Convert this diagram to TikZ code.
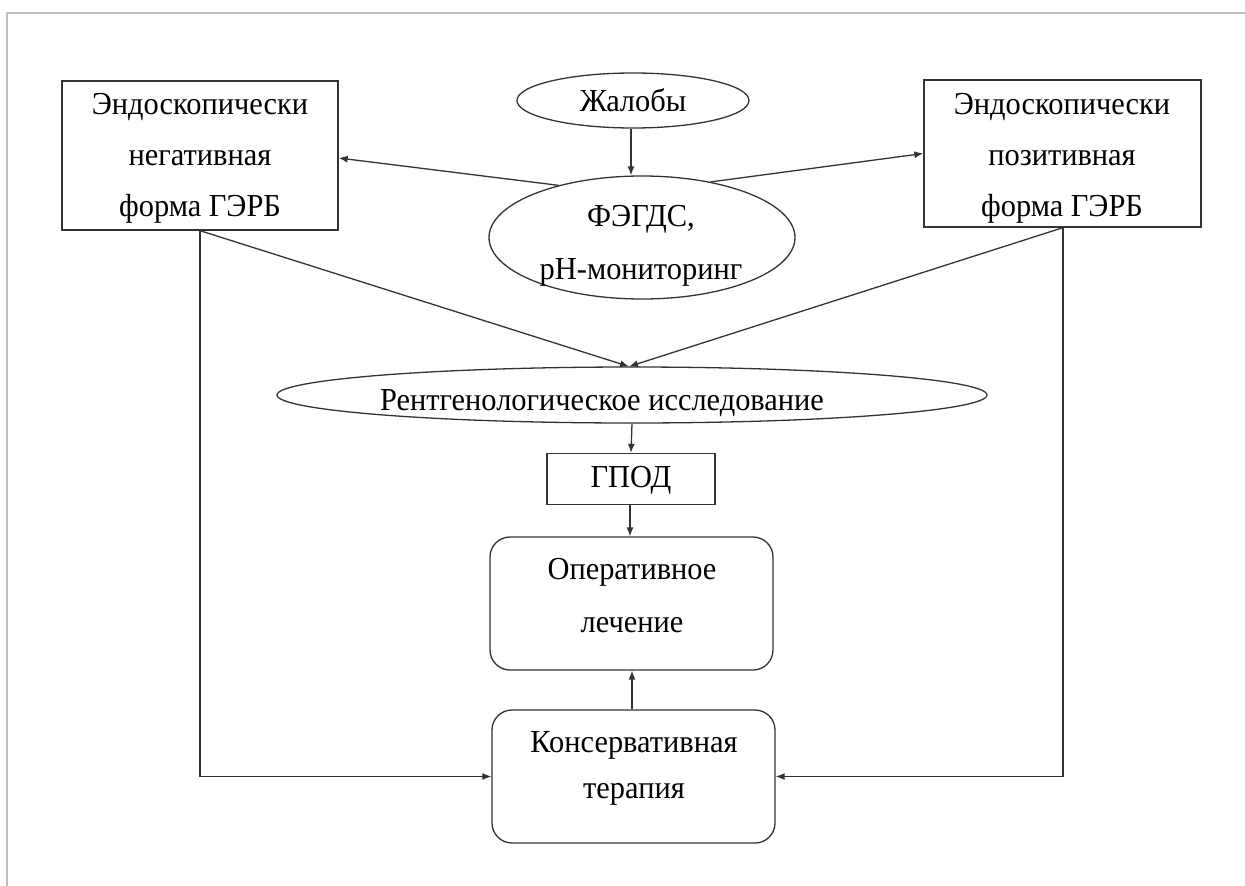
\documentclass[tikz,border=0pt]{standalone}
\usepackage{fontspec}
\setmainfont{Liberation Serif}
\usetikzlibrary{shapes.geometric,arrows.meta}
\definecolor{linec}{HTML}{333333}
\newfontfamily\cyrserif{Liberation Serif}[FakeStretch=0.95]
\newcommand{\txtfont}{\cyrserif\fontsize{32}{51}\selectfont}
\begin{document}
\begin{tikzpicture}[x=1pt,y=-1pt,
  box/.style={draw=linec, line width=1.3pt, rectangle, inner sep=0pt, align=center, font=\txtfont},
  rbox/.style={box, rounded corners=20pt},
  oval/.style={draw=linec, line width=1.3pt, ellipse, inner sep=0pt, align=center, font=\txtfont},
  lbl/.style={inner sep=0pt, align=center, font=\txtfont},
  arr/.style={draw=linec, line width=1.3pt, -{Latex[length=9pt,width=7pt]}},
  frame/.style={draw=black!25, line width=1.2pt}]
\useasboundingbox (0,0) rectangle (1245,886);
\draw[frame] (7,886) -- (7,13) -- (1245,13);

\node[box, minimum width=276pt, minimum height=149pt] (lneg) at (200,155.5) {};
\node[lbl] (lnegt) at (200,158.5) {Эндоскопически\\негативная\\форма ГЭРБ};
\node[box, minimum width=277pt, minimum height=147pt] (rpos) at (1062.5,153.5) {};
\node[lbl] (rpost) at (1062,158) {Эндоскопически\\позитивная\\форма ГЭРБ};
\node[oval, minimum width=232pt, minimum height=55pt] (zhal) at (633,100.5) {Жалобы};
\node[oval, minimum width=306pt, minimum height=123pt] (fegds) at (642,237.5) {};
\node[lbl] (fegdst) at (641,246) {ФЭГДС,\\[2pt]рН-мониторинг};
\node[oval, minimum width=710pt, minimum height=56pt] (rentg) at (632,395) {};
\node[lbl] (rentgt) at (602,403) {Рентгенологическое исследование};
\node[box, minimum width=168pt, minimum height=51pt] (gpod) at (631,479) {};
\node[lbl] (gpodt) at (631,480.5) {ГПОД};
\node[rbox, minimum width=283pt, minimum height=133pt] (oper) at (631.5,603.5) {};
\node[lbl] (opert) at (632,595.5) {Оперативное\\[2pt]лечение};
\node[rbox, minimum width=283pt, minimum height=133pt] (kons) at (633.5,776.5) {};
\node[lbl] (konst) at (634,768.5) {Консервативная\\[-5pt]терапия};

\coordinate (rtip) at (629,366.5);
\draw[arr] ([xshift=-2pt]zhal.south) -- ([xshift=-11pt]fegds.north);
\draw[arr] (fegds.148.5) -- ([yshift=-2.5pt]lneg.east);
\draw[arr] (fegds.39) -- (rpos.west);
\draw[arr] (lneg.south) -- (rtip);
\draw[arr] ([xshift=0.5pt]rpos.south) -- (rtip);
\draw[arr] (rentg.south) -- (gpod.north);
\draw[arr] ([xshift=-1pt]gpod.south) -- ([xshift=-1.5pt]oper.north);
\draw[arr] ([xshift=-1.5pt]kons.north) -- ([xshift=0.5pt]oper.south);
\draw[arr] (lneg.south) |- (kons.west);
\draw[arr] ([xshift=0.5pt]rpos.south) |- (kons.east);
\end{tikzpicture}
\end{document}
